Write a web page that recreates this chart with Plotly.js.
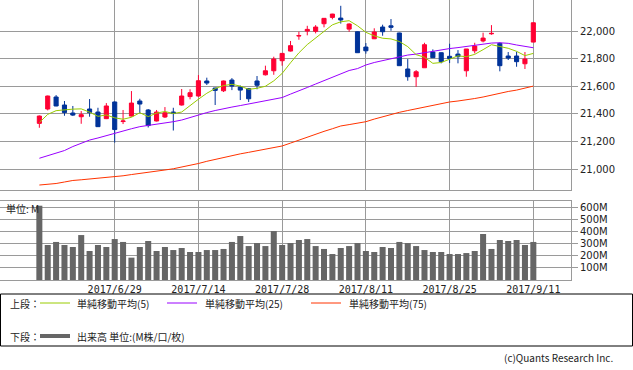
<!DOCTYPE html>
<html>
<head>
<meta charset="utf-8">
<script src="https://cdn.plot.ly/plotly-3.0.1.min.js"></script>
<style>html,body{margin:0;padding:0;background:#fff;}#chart{width:633px;height:370px;}</style>
</head>
<body>
<div id="chart"></div>
<script>
// ---- data ----
const dayIndex = [0,1,2,3,4,5,6,7,8,9,10,11,12,13,14,15,16,17,18,19,20,21,22,23,24,25,26,27,28,29,30,31,32,33,34,35,36,37,38,39,40,41,42,43,44,45,46,47,48,49,50,51,52,53,54,55,56,57,58,59];
const tickIndex = [9,19,29,39,49,59];
const tickLabels = ['2017/6/29','2017/7/14','2017/7/28','2017/8/11','2017/8/25','2017/9/11'];

const openP  = [21331,21435,21522,21464,21406,21379,21435,21413,21365,21486,21344,21384,21493,21428,21348,21377,21413,21464,21525,21529,21638,21587,21567,21645,21594,21583,21638,21683,21712,21785,21855,21964,22000,21998,22053,22099,22094,22014,21995,21884,21944,22029,22038,21986,21725,21669,21734,21848,21843,21817,21833,21712,21857,21928,21980,21911,21819,21819,21763,21920];
const highP  = [21388,21532,21536,21493,21457,21420,21507,21444,21478,21490,21428,21565,21509,21435,21428,21449,21444,21580,21578,21681,21662,21589,21641,21659,21605,21587,21674,21749,21814,21841,21928,21995,22038,22043,22094,22125,22183,22056,21997,21913,22020,22046,22087,21988,21797,21717,21915,21867,21845,21908,21862,21870,21915,21988,22043,21918,21848,21850,21848,22062];
const lowP   = [21299,21425,21455,21386,21384,21328,21379,21305,21362,21191,21326,21380,21406,21301,21345,21370,21279,21460,21505,21525,21609,21464,21558,21572,21500,21486,21578,21678,21683,21749,21852,21937,21969,21983,22027,22085,22054,21995,21843,21836,21942,21966,22002,21749,21640,21596,21734,21807,21766,21768,21766,21669,21838,21918,21973,21708,21790,21741,21725,21920];
const closeP = [21384,21529,21457,21409,21391,21394,21409,21307,21457,21286,21348,21478,21471,21315,21413,21408,21402,21529,21553,21640,21623,21570,21638,21601,21572,21509,21607,21712,21797,21838,21894,21967,22012,22029,22092,22123,22080,22051,21843,21857,21993,21995,22027,21749,21669,21705,21901,21807,21778,21801,21814,21870,21891,21949,21983,21749,21804,21778,21797,22060];

const ma5  = [21337,21396,21423,21430,21434,21436,21412,21382,21392,21371,21361,21375,21408,21380,21405,21417,21402,21413,21461,21506,21549,21583,21605,21614,21601,21578,21585,21600,21639,21693,21770,21842,21902,21948,21999,22045,22067,22075,22038,21991,21965,21948,21943,21924,21887,21829,21810,21766,21772,21798,21820,21814,21831,21865,21901,21888,21875,21853,21822,21838];
const ma25 = [21078,21098,21116,21134,21163,21188,21210,21225,21243,21261,21275,21292,21307,21315,21326,21333,21343,21355,21373,21395,21409,21424,21438,21449,21460,21471,21482,21493,21504,21518,21543,21565,21591,21616,21641,21667,21692,21714,21728,21754,21772,21786,21801,21815,21826,21833,21844,21855,21862,21873,21880,21888,21895,21906,21913,21915,21911,21899,21888,21879];
const ma75 = [20884,20889,20895,20906,20917,20922,20928,20933,20937,20942,20951,20960,20967,20975,20983,20993,21002,21014,21024,21040,21056,21070,21085,21099,21110,21121,21132,21143,21154,21167,21188,21210,21232,21254,21273,21292,21312,21322,21333,21343,21362,21380,21395,21411,21424,21437,21449,21462,21475,21486,21493,21500,21511,21522,21536,21547,21562,21572,21587,21601];

const volumeM = [615,290,315,290,273,372,240,290,273,339,315,185,273,323,240,273,248,265,232,232,248,248,257,315,364,281,306,281,405,290,306,331,339,281,257,215,265,281,306,240,232,273,265,315,306,281,248,232,232,215,215,223,240,381,257,331,323,331,290,315];

const priceTicks = [21000,21200,21400,21600,21800,22000];
const priceTickText = ['21,000','21,200','21,400','21,600','21,800','22,000'];
const volTicks = [100,200,300,400,500,600];
const volTickText = ['100M','200M','300M','400M','500M','600M'];

// ---- layout helpers ----
const W = 633, H = 370;
const px = x => x / W;
const py = y => 1 - y / H;
const gridC = '#9a9a9a';
const numFont = 'DejaVu Sans, Arial, sans-serif';
const jpFont = 'Noto Sans CJK JP, sans-serif';

const traces = [
  {type:'candlestick', x:dayIndex, open:openP, high:highP, low:lowP, close:closeP,
   xaxis:'x', yaxis:'y', whiskerwidth:0, hoverinfo:'skip',
   increasing:{line:{color:'#ff0033', width:1}, fillcolor:'#ff0033'},
   decreasing:{line:{color:'#003399', width:1}, fillcolor:'#003399'}},
  {type:'scatter', mode:'lines', x:dayIndex, y:ma75, xaxis:'x', yaxis:'y', line:{color:'#ff3300', width:1}, hoverinfo:'skip'},
  {type:'scatter', mode:'lines', x:dayIndex, y:ma25, xaxis:'x', yaxis:'y', line:{color:'#9900ff', width:1}, hoverinfo:'skip'},
  {type:'scatter', mode:'lines', x:dayIndex, y:ma5, xaxis:'x', yaxis:'y', line:{color:'#99cc00', width:1}, hoverinfo:'skip'},
  {type:'bar', x:dayIndex, y:volumeM, xaxis:'x2', yaxis:'y2', width:0.72, marker:{color:'#666666', line:{width:0}}, hoverinfo:'skip'}
];

const xDom = [0, 571/W];
const xRange = [-4.7, 63.5];

const legendY1 = 303, legendY2 = 336;
const shapes = [
  {type:'rect', xref:'paper', yref:'paper', x0:px(0.5), x1:px(632.5), y0:py(346), y1:py(294), line:{color:'#000', width:1}},
  {type:'line', xref:'paper', yref:'paper', x0:px(40), x1:px(70), y0:py(legendY1), y1:py(legendY1), line:{color:'#99cc00', width:1}},
  {type:'line', xref:'paper', yref:'paper', x0:px(167), x1:px(197), y0:py(legendY1), y1:py(legendY1), line:{color:'#9900ff', width:1}},
  {type:'line', xref:'paper', yref:'paper', x0:px(311), x1:px(341), y0:py(legendY1), y1:py(legendY1), line:{color:'#ff3300', width:1}},
  {type:'line', xref:'paper', yref:'paper', x0:px(40), x1:px(70), y0:py(legendY2), y1:py(legendY2), line:{color:'#666666', width:4}}
];

const ann = (x, y, text, anchor, size) => ({xref:'paper', yref:'paper', x:px(x), y:py(y), text:text, showarrow:false,
  xanchor:anchor||'left', yanchor:'middle', font:{family:jpFont, size:size||10, color:'#222'}});

const annotations = [
  ann(8, legendY1, '上段：'),
  ann(75, legendY1, '単純移動平均(5)'),
  ann(203, legendY1, '単純移動平均(25)'),
  ann(347, legendY1, '単純移動平均(75)'),
  ann(8, legendY2, '下段：'),
  ann(75, legendY2, '出来高 単位:(M株/口/枚)'),
  ann(615, 357, '(c)Quants Research Inc.', 'right'),
  ann(4, 208, '単位: M')
];

const layout = {
  width:W, height:H, margin:{l:0, r:0, t:0, b:0}, paper_bgcolor:'#fff', plot_bgcolor:'#fff',
  showlegend:false, dragmode:false,
  xaxis:{domain:xDom, range:xRange, anchor:'y', tickmode:'array', tickvals:tickIndex, showticklabels:false, ticks:'',
         showgrid:true, gridcolor:gridC, gridwidth:1, zeroline:false, showline:true, mirror:true, linecolor:gridC, linewidth:1,
         rangeslider:{visible:false}, fixedrange:true},
  yaxis:{domain:[1-190/H, 1], range:[20848, 22225], side:'right', anchor:'x', tickmode:'array', tickvals:priceTicks, ticktext:priceTickText,
         ticks:'outside', ticklen:6, tickcolor:gridC, showgrid:true, gridcolor:gridC, zeroline:false, showline:true, mirror:true,
         linecolor:gridC, tickfont:{family:numFont, size:10, color:'#222'}, fixedrange:true},
  xaxis2:{domain:xDom, range:xRange, anchor:'y2', tickmode:'array', tickvals:tickIndex, ticktext:tickLabels, ticks:'',
          showgrid:true, gridcolor:gridC, zeroline:false, showline:true, mirror:true, linecolor:gridC,
          tickfont:{family:'DejaVu Sans Mono, monospace', size:10, color:'#222'}, fixedrange:true},
  yaxis2:{domain:[1-280/H, 1-201/H], range:[0, 654], side:'right', anchor:'x2', tickmode:'array', tickvals:volTicks, ticktext:volTickText,
          ticks:'outside', ticklen:6, tickcolor:gridC, showgrid:true, gridcolor:gridC, zeroline:false, showline:true, mirror:true,
          linecolor:gridC, tickfont:{family:numFont, size:10, color:'#222'}, fixedrange:true},
  shapes:shapes, annotations:annotations
};

Plotly.newPlot('chart', traces, layout, {staticPlot:true, displayModeBar:false});
</script>
</body>
</html>
